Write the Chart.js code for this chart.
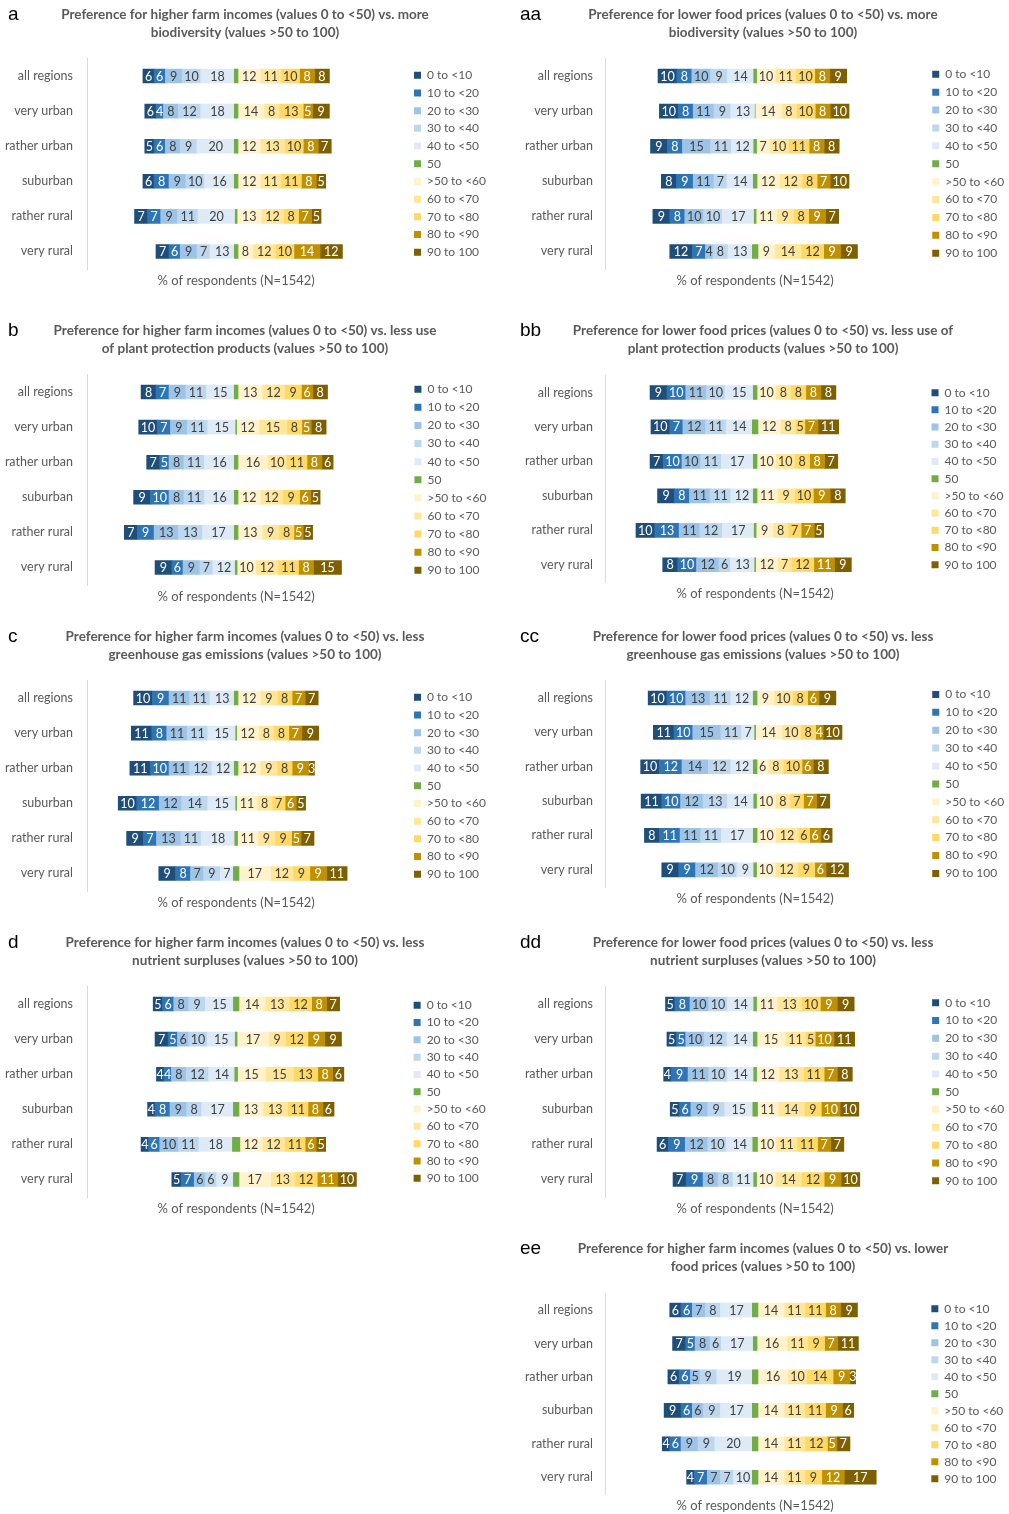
<!DOCTYPE html>
<html><head><meta charset="utf-8">
<script src="https://cdn.jsdelivr.net/npm/chart.js@4.4.1/dist/chart.umd.min.js"></script>
<style>
html,body{margin:0;padding:0;background:#fff;}
body{width:1009px;height:1514px;position:relative;overflow:hidden;font-family:Lato,sans-serif;}
.panel{position:absolute;}
.letter{position:absolute;font-family:'Liberation Sans',Arial,sans-serif;font-size:19px;color:#000;line-height:19px;}
</style></head><body>
<script>
const categories = ['all regions', 'very urban', 'rather urban', 'suburban', 'rather rural', 'very rural'];
const bandLabels = ['0 to <10', '10 to <20', '20 to <30', '30 to <40', '40 to <50', '50', '>50 to <60', '60 to <70', '70 to <80', '80 to <90', '90 to 100'];
const bandColors = ['#1f4e79', '#2e75b6', '#9dc3e6', '#bdd7ee', '#deebf7', '#70ad47', '#fff2cc', '#ffe699', '#ffd966', '#bf9000', '#7f6000'];
const xAxisTitle = '% of respondents (N=1542)';

// rows follow categories, columns follow bandLabels (percent of respondents)
const valuesA  = [[6,6,9,10,18,2,12,11,10,8,8],[6,4,8,12,18,2,14,8,13,5,9],[5,6,8,9,20,2,12,13,10,8,7],[6,8,9,10,16,2,12,11,11,8,5],[7,7,9,11,20,1,13,12,8,7,5],[7,6,9,7,13,2,8,12,10,14,12]];
const valuesAA = [[10,8,10,9,14,1.5,10,11,10,8,9],[10,8,11,9,13,0,14,8,10,8,10],[9,8,15,11,12,1.5,7,10,11,8,8],[8,9,11,7,14,2,12,12,8,7,10],[9,8,10,10,17,1,11,9,8,9,7],[12,7,4,8,13,3,9,14,12,9,9]];
const valuesB  = [[8,7,9,11,15,2,13,12,9,6,8],[10,7,9,11,15,0.5,12,15,8,5,8],[7,5,8,11,16,2,16,10,11,8,6],[9,10,8,11,16,2,12,12,9,6,5],[7,9,13,13,17,2,13,9,8,5,5],[9,6,9,7,12,1,10,12,11,8,15]];
const valuesBB = [[9,10,11,10,15,2,10,8,8,8,8],[10,7,12,11,14,3,12,8,5,7,11],[7,10,10,11,17,2,10,10,8,8,7],[9,8,11,11,12,2,11,9,10,9,8],[10,13,11,12,17,1,9,8,7,7,5],[8,10,12,6,13,0.5,12,7,12,11,9]];
const valuesC  = [[10,9,11,11,13,2,12,9,8,7,7],[11,8,11,11,15,0.5,12,8,8,7,9],[11,10,11,12,12,2,12,9,8,9,3],[10,12,12,14,15,0.5,11,8,7,6,5],[9,7,13,11,18,1.5,11,9,9,5,7],[9,8,7,9,7,3,17,12,9,9,11]];
const valuesCC = [[10,10,13,11,12,2,9,10,8,6,9],[11,10,15,11,7,0.5,14,10,8,4,10],[10,12,14,12,12,2,6,8,10,6,8],[11,10,12,13,14,1.5,10,8,7,7,7],[8,11,11,11,17,2,10,12,6,6,6],[9,9,12,10,9,1.5,10,12,9,6,12]];
const valuesD  = [[5,6,8,9,15,3,14,13,12,8,7],[7,5,6,10,15,1,17,9,12,9,9],[4,4,8,12,14,1.5,15,15,13,8,6],[4,8,9,8,17,3,13,13,11,8,6],[4,6,10,11,18,4,12,12,11,6,5],[5,7,6,6,9,3,17,13,12,11,10]];
const valuesDD = [[5,8,10,10,14,1.5,11,13,10,9,9],[5,5,10,12,14,2,15,11,5,10,11],[4,9,11,10,14,1.5,12,13,11,7,8],[5,6,9,9,15,2.5,11,14,9,10,10],[6,9,12,10,14,2.5,10,11,11,7,7],[7,9,8,8,11,1.5,10,14,12,9,10]];
const valuesEE = [[6,6,7,8,17,3,14,11,11,8,9],[7,5,8,6,17,2,16,11,9,7,11],[6,6,5,9,19,3,16,10,14,9,3],[9,6,6,9,17,3,14,11,11,9,6],[4,6,9,9,20,3,14,11,12,5,7],[4,7,7,7,10,3,14,11,9,12,17]];

const titleA  = ['Preference for higher farm incomes (values 0 to <50) vs. more', 'biodiversity (values >50 to 100)'];
const titleAA = ['Preference for lower food prices (values 0 to <50) vs. more', 'biodiversity (values >50 to 100)'];
const titleB  = ['Preference for higher farm incomes (values 0 to <50) vs. less use', 'of plant protection products (values >50 to 100)'];
const titleBB = ['Preference for lower food prices (values 0 to <50) vs. less use of', 'plant protection products (values >50 to 100)'];
const titleC  = ['Preference for higher farm incomes (values 0 to <50) vs. less', 'greenhouse gas emissions (values >50 to 100)'];
const titleCC = ['Preference for lower food prices (values 0 to <50) vs. less', 'greenhouse gas emissions (values >50 to 100)'];
const titleD  = ['Preference for higher farm incomes (values 0 to <50) vs. less', 'nutrient surpluses (values >50 to 100)'];
const titleDD = ['Preference for lower food prices (values 0 to <50) vs. less', 'nutrient surpluses (values >50 to 100)'];
const titleEE = ['Preference for higher farm incomes (values 0 to <50) vs. lower', 'food prices (values >50 to 100)'];

const L = {x: 0,   letterX: 8,   tickPad: 14, gap: 23};
const R = {x: 518, letterX: 520, tickPad: 12, gap: 21};
const panels = [
  {letter:'a',  title:titleA,  values:valuesA,  col:L, titleY:15,   firstCat:76,    spacing:35,   legSpacing:17.7},
  {letter:'aa', title:titleAA, values:valuesAA, col:R, titleY:15,   firstCat:76,    spacing:35,   legSpacing:17.9},
  {letter:'b',  title:titleB,  values:valuesB,  col:L, titleY:331,  firstCat:392,   spacing:35,   legSpacing:18.1},
  {letter:'bb', title:titleBB, values:valuesBB, col:R, titleY:331,  firstCat:392.5, spacing:34.5, legSpacing:17.2},
  {letter:'c',  title:titleC,  values:valuesC,  col:L, titleY:637,  firstCat:698,   spacing:35,   legSpacing:17.7},
  {letter:'cc', title:titleCC, values:valuesCC, col:R, titleY:637,  firstCat:698,   spacing:34.4, legSpacing:17.9},
  {letter:'d',  title:titleD,  values:valuesD,  col:L, titleY:943,  firstCat:1004,  spacing:35,   legSpacing:17.3},
  {letter:'dd', title:titleDD, values:valuesDD, col:R, titleY:943,  firstCat:1004,  spacing:35,   legSpacing:17.8},
  {letter:'ee', title:titleEE, values:valuesEE, col:R, titleY:1249, firstCat:1310,  spacing:33.4, legSpacing:17.0}
];

const segLabels = {
  id: 'segLabels',
  afterDatasetsDraw(chart) {
    const ctx = chart.ctx;
    ctx.save();
    ctx.font = '12.5px Lato';
    ctx.textAlign = 'center';
    ctx.textBaseline = 'middle';
    chart.data.datasets.forEach((d, di) => {
      if (d.noLabel) return;
      const meta = chart.getDatasetMeta(di);
      meta.data.forEach((el, i) => {
        const v = d.value[i];
        if (!v) return;
        ctx.fillStyle = d.textColor;
        ctx.fillText(String(v), (el.x + el.base) / 2, el.y + 0.5);
      });
    });
    ctx.restore();
  }
};

function buildPanel(p) {
  const c = p.col;
  const chartTop = p.firstCat - p.spacing / 2 - (p.titleY - 15);
  const H = Math.round(chartTop + p.spacing * 6 + 23);
  const W = 490;
  const div = document.createElement('div');
  div.className = 'panel';
  div.style.left = c.x + 'px';
  div.style.top = (p.titleY - 15) + 'px';
  div.style.width = W + 'px';
  div.style.height = H + 'px';
  const cv = document.createElement('canvas');
  cv.width = W; cv.height = H;
  cv.style.width = W + 'px'; cv.style.height = H + 'px';
  div.appendChild(cv);
  document.body.appendChild(div);

  const lt = document.createElement('div');
  lt.className = 'letter';
  lt.textContent = p.letter;
  lt.style.left = c.letterX + 'px';
  lt.style.top = (p.titleY - 11) + 'px';
  document.body.appendChild(lt);

  const col = i => p.values.map(r => r[i]);
  const ds = [];
  ds.push({label: bandLabels[5], data: col(5).map(v => -v / 2), backgroundColor: bandColors[5], rank: 5, inLegend: true, noLabel: true});
  for (let i = 4; i >= 0; i--) {
    ds.push({label: bandLabels[i], data: col(i).map(v => -v), value: col(i), backgroundColor: bandColors[i], rank: i, inLegend: true, textColor: i < 2 ? '#ffffff' : '#404040'});
  }
  ds.push({label: bandLabels[5], data: col(5).map(v => v / 2), backgroundColor: bandColors[5], rank: 5, inLegend: false, noLabel: true});
  for (let i = 6; i <= 10; i++) {
    ds.push({label: bandLabels[i], data: col(i), value: col(i), backgroundColor: bandColors[i], rank: i, inLegend: true, textColor: i > 8 ? '#ffffff' : '#404040'});
  }

  const noGrid = {display: false, drawTicks: false};
  new Chart(cv, {
    type: 'bar',
    data: {labels: categories, datasets: ds},
    options: {
      indexAxis: 'y',
      responsive: false,
      animation: false,
      devicePixelRatio: 1,
      layout: {padding: {left: 0, right: 0, top: 0, bottom: 0}},
      datasets: {bar: {barThickness: 14, borderWidth: 0}},
      scales: {
        x: {
          stacked: true, min: -80, max: 80,
          grid: noGrid, border: {display: false}, ticks: {display: false},
          title: {display: true, text: xAxisTitle, color: '#595959', font: {family: 'Lato', size: 13, lineHeight: '15px'}, padding: {top: 4, bottom: 4}}
        },
        y: {
          stacked: true,
          grid: noGrid,
          border: {display: true, color: '#d9d9d9', width: 1},
          ticks: {color: '#595959', font: {family: 'Lato', size: 12.5}, padding: c.tickPad},
          afterFit: s => { s.width = 87; }
        },
        yR: {
          position: 'right', display: true,
          grid: noGrid, border: {display: false}, ticks: {display: false},
          afterFit: s => { s.width = c.gap; }
        }
      },
      plugins: {
        title: {display: true, text: p.title, color: '#595959', font: {family: 'Lato', size: 13.5, weight: 'bold', lineHeight: '18px'}, padding: {top: 6, bottom: chartTop - 42}},
        legend: {
          position: 'right', fullSize: false, align: 'center',
          labels: {
            boxWidth: 7, boxHeight: 7, padding: p.legSpacing - 12, color: '#595959',
            font: {family: 'Lato', size: 12},
            filter: (item, data) => data.datasets[item.datasetIndex].inLegend,
            sort: (a, b, data) => data.datasets[a.datasetIndex].rank - data.datasets[b.datasetIndex].rank
          }
        },
        tooltip: {enabled: false}
      }
    },
    plugins: [segLabels]
  });
}

panels.forEach(buildPanel);
</script>
</body></html>
